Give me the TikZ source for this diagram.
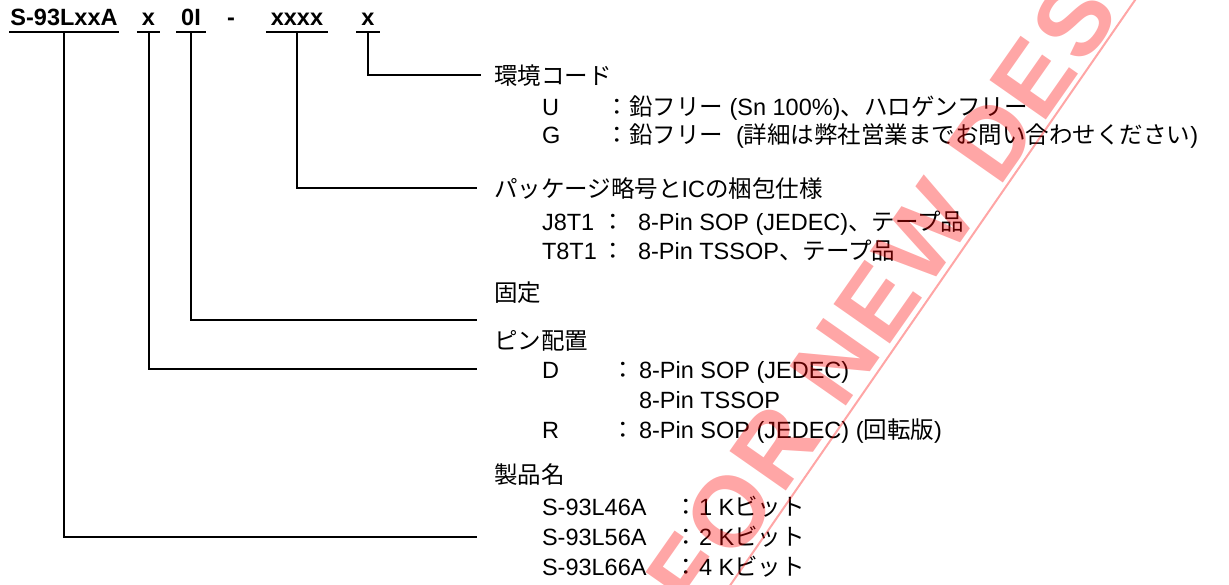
\documentclass[tikz,border=0pt]{standalone}
\usepackage{fontspec}
\usepackage{tikz}
\setmainfont{Liberation Sans}
\newfontfamily\jpfont{Noto Sans CJK JP}
\newfontfamily\wmfont[LetterSpace=4]{Liberation Sans}
\newcommand{\jp}[1]{{\jpfont #1}}

\begin{document}
\begin{tikzpicture}[
    x=0.5pt, y=-0.5pt,
    every node/.style={font=\fontsize{11.75}{14}\selectfont, inner sep=0pt},
    code/.style={font=\fontsize{11.75}{14}\selectfont\bfseries, anchor=base, inner xsep=2pt, text depth=3pt},
    head/.style={anchor=base west},
    item/.style={anchor=base west},
    colon/.style={anchor=base},
    wm/.style={anchor=base west, rotate=55, text=red, opacity=0.35,
               font=\wmfont\bfseries\fontsize{50}{55}\selectfont},
    line width=1pt
  ]
  \useasboundingbox (0,0) rectangle (1229,584);

  % product code
  \node[code, inner xsep=0pt] (cProd) at (64,25) {S-93LxxA};
  \node[code] (cPin)  at (148.5,25) {x};
  \node[code] (cFix)  at (191,25) {0I};
  \node[code] (cDash) at (231,25) {-};
  \node[code] (cPkg)  at (297,25) {xxxx};
  \node[code] (cEnv)  at (368,25) {x};
  \foreach \n in {cProd,cPin,cFix,cPkg,cEnv}
    \draw (\n.south west) -- (\n.south east);

  % leader lines
  \coordinate (eEnv)  at (481,75);
  \coordinate (ePkg)  at (477,188);
  \coordinate (eFix)  at (477,320);
  \coordinate (ePin)  at (477,369);
  \coordinate (eProd) at (477,537);

  \draw (cEnv.south) |- (eEnv);
  \draw (cPkg.south) |- (ePkg);
  \draw (cFix.south) |- (eFix);
  \draw (cPin.south) |- (ePin);
  \draw (cProd.south) |- (eProd);

  % environment code
  \node[head] (hEnv) at (493,84) {\jp{環境コード}};
  \node[item] (iU) at (541,115) {U};
  \node[colon] (kU) at (617,115) {\jp{：}};
  \node[item] (tU) at (628,115) {\jp{鉛フリー} (Sn 100\%)\jp{、ハロゲンフリー}};
  \node[item] (iG) at (541,143) {G};
  \node[colon] (kG) at (617,143) {\jp{：}};
  \node[item] (tG) at (628,143) {\jp{鉛フリー}\ \ (\jp{詳細は弊社営業までお問い合わせください})};

  % package
  \node[head] (hPkg) at (493,197) {\jp{パッケージ略号と}IC\jp{の梱包仕様}};
  \node[item] (iJ) at (541,230) {J8T1};
  \node[colon] (kJ) at (613,230) {\jp{：}};
  \node[item] (tJ) at (637,230) {8-Pin SOP (JEDEC)\jp{、テープ品}};
  \node[item] (iT) at (541,259) {T8T1};
  \node[colon] (kT) at (613,259) {\jp{：}};
  \node[item] (tT) at (637,259) {8-Pin TSSOP\jp{、テープ品}};

  % fixed
  \node[head] (hFix) at (493,301) {\jp{固定}};

  % pin assignment
  \node[head] (hPin) at (493,349) {\jp{ピン配置}};
  \node[item] (iD) at (541,378) {D};
  \node[colon] (kD) at (623,378) {\jp{：}};
  \node[item] (tD) at (638,378) {8-Pin SOP (JEDEC)};
  \node[item] (tD2) at (638,408) {8-Pin TSSOP};
  \node[item] (iR) at (541,438) {R};
  \node[colon] (kR) at (623,438) {\jp{：}};
  \node[item] (tR) at (638,438) {8-Pin SOP (JEDEC) (\jp{回転版})};

  % product name
  \node[head] (hProd) at (493,483) {\jp{製品名}};
  \foreach \name/\bits/\yy in {46/1/515, 56/2/545, 66/4/575} {
    \node[item] (i\name) at (541,\yy) {S-93L\name A};
    \node[colon] (k\name) at (686,\yy) {\jp{：}};
    \node[item] (t\name) at (698,\yy) {\bits\ K\jp{ビット}};
  }

  % watermark
  \begin{scope}
    \clip (0,0) rectangle (1229,584);
    \coordinate (wmA) at (720,600);
    \coordinate (wmB) at (1142,-10);
    \draw[red, opacity=0.35] (wmA) -- (wmB);
    \node[wm] (wmText) at (698,618) {FOR NEW DES};
  \end{scope}
\end{tikzpicture}
\end{document}
